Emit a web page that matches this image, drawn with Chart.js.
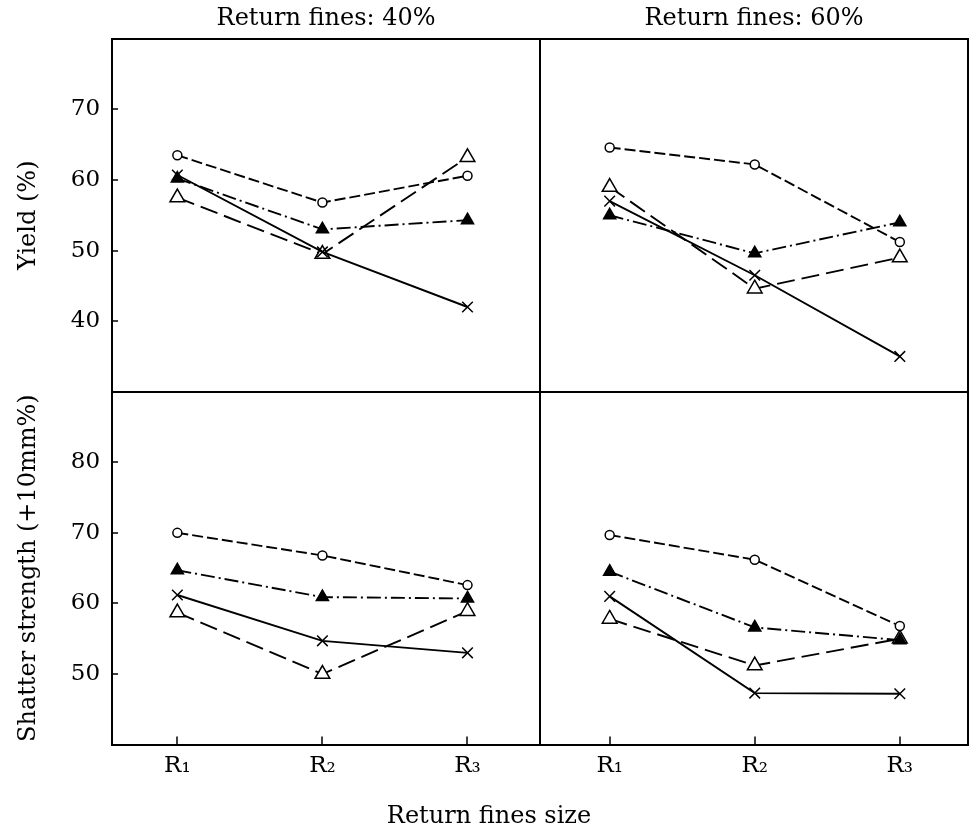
<!DOCTYPE html>
<html>
<head>
<meta charset="utf-8">
<script src="https://cdn.jsdelivr.net/npm/chart.js@4.4.0/dist/chart.umd.min.js"></script>
<style>
  body { margin: 0; background: #fff; }
  #wrap { width: 970px; height: 833px; }
</style>
</head>
<body>
<div id="wrap"><canvas id="fines-chart" width="970" height="833"></canvas></div>
<script>
// return fines size categories
const sizes = ['R\u2081', 'R\u2082', 'R\u2083'];
const sizePos = [1, 2, 3];

// Yield (%) - return fines 40%
const yield40Circle = [63.5, 56.8, 60.6];
const yield40SolidTri = [60.2, 53.0, 54.3];
const yield40Cross = [60.7, 49.8, 42.0];
const yield40OpenTri = [57.5, 49.5, 63.2];

// Yield (%) - return fines 60%
const yield60Circle = [64.6, 62.2, 51.2];
const yield60SolidTri = [55.0, 49.6, 54.0];
const yield60Cross = [57.0, 46.5, 35.0];
const yield60OpenTri = [59.0, 44.6, 49.0];

// Shatter strength (+10mm%) - return fines 40%
const shatter40Circle = [70.0, 66.8, 62.6];
const shatter40SolidTri = [64.7, 60.9, 60.7];
const shatter40Cross = [61.2, 54.7, 53.0];
const shatter40OpenTri = [58.7, 50.0, 58.9];

// Shatter strength (+10mm%) - return fines 60%
const shatter60Circle = [69.7, 66.2, 56.8];
const shatter60SolidTri = [64.5, 56.6, 54.8];
const shatter60Cross = [61.0, 47.3, 47.2];
const shatter60OpenTri = [57.8, 51.2, 55.0];

const yieldTicks = [30, 40, 50, 60, 70];
const shatterTicks = [50, 60, 70, 80];
const yieldRange = [30, 80];
const shatterRange = [40, 90];
const xRangeL = [0.55, 3.5];
const xRangeR = [0.52, 3.47];

Chart.defaults.font.family = 'DejaVu Serif';
Chart.defaults.color = '#000';

const styles = {
    circle: { borderDash: [11, 4], pointStyle: 'circle', pointRadius: 4.5, pointBackgroundColor: '#fff' },
    solidTri: { borderDash: [14, 4, 2, 4], pointStyle: 'triangle', pointRadius: 7, pointBackgroundColor: '#000' },
    cross: { borderDash: [], pointStyle: 'crossRot', pointRadius: 7.5, pointBackgroundColor: '#000' },
    openTri: { borderDash: [18, 7], pointStyle: 'triangle', pointRadius: 8.5, pointBackgroundColor: '#fff' }
};

function series(values, style, xAxis, yAxis) {
    return Object.assign({
        data: values.map((v, i) => ({ x: sizePos[i], y: v })),
        xAxisID: xAxis,
        yAxisID: yAxis,
        borderColor: '#000',
        borderWidth: 1.9,
        pointBorderColor: '#000',
        pointBorderWidth: 1.5,
        fill: false,
        tension: 0
    }, styles[style]);
}

const datasets = [
    series(yield40Circle, 'circle', 'xL', 'yT'),
    series(yield40SolidTri, 'solidTri', 'xL', 'yT'),
    series(yield40Cross, 'cross', 'xL', 'yT'),
    series(yield40OpenTri, 'openTri', 'xL', 'yT'),
    series(yield60Circle, 'circle', 'xR', 'yT'),
    series(yield60SolidTri, 'solidTri', 'xR', 'yT'),
    series(yield60Cross, 'cross', 'xR', 'yT'),
    series(yield60OpenTri, 'openTri', 'xR', 'yT'),
    series(shatter40Circle, 'circle', 'xL', 'yB'),
    series(shatter40SolidTri, 'solidTri', 'xL', 'yB'),
    series(shatter40Cross, 'cross', 'xL', 'yB'),
    series(shatter40OpenTri, 'openTri', 'xL', 'yB'),
    series(shatter60Circle, 'circle', 'xR', 'yB'),
    series(shatter60SolidTri, 'solidTri', 'xR', 'yB'),
    series(shatter60Cross, 'cross', 'xR', 'yB'),
    series(shatter60OpenTri, 'openTri', 'xR', 'yB')
];

const tickFont = { size: 23 };
const titleFont = { size: 24 };
const frame = { color: '#000', width: 2 };
const clear = 'rgba(0,0,0,0)';

function bottomAxis(range, divider) {
    return {
        type: 'linear', position: 'bottom', stack: 'bx', stackWeight: 1,
        min: range[0], max: range[1],
        afterBuildTicks: s => { s.ticks = sizePos.concat([range[1]]).map(v => ({ value: v })); },
        // no extra side padding for the edge tick
        afterFit: s => { s.paddingLeft = 0; s.paddingRight = 0; },
        ticks: {
            font: tickFont, padding: 16, maxRotation: 0, autoSkip: false,
            callback: v => sizes[sizePos.indexOf(v)] || ''
        },
        grid: {
            color: c => (divider && c.tick && c.tick.value === range[1]) ? '#000' : clear,
            lineWidth: 2, tickLength: -8, tickColor: '#000', tickWidth: 1.5
        },
        border: frame
    };
}

function topAxis(text) {
    return {
        type: 'linear', position: 'top', stack: 'tx', stackWeight: 1, min: 0, max: 1,
        ticks: { display: false },
        grid: { display: false, drawTicks: false },
        border: frame,
        title: { display: true, text: text, font: titleFont, padding: { top: 3, bottom: 6 } }
    };
}

function leftAxis(range, ticks, text, divider) {
    return {
        type: 'linear', position: 'left', stack: 'ly', stackWeight: 1,
        min: range[0], max: range[1],
        afterBuildTicks: s => { s.ticks = ticks.map(v => ({ value: v })); },
        ticks: { font: tickFont, padding: 18, callback: v => (v === divider ? '' : v) },
        grid: {
            color: c => (c.tick && c.tick.value === divider) ? '#000' : clear,
            lineWidth: 2, tickLength: -6, tickColor: '#000', tickWidth: 1.5
        },
        border: frame,
        title: { display: true, text: text, font: titleFont, padding: { top: 4, bottom: 10 } }
    };
}

const ctx = document.getElementById('fines-chart').getContext('2d');
const chart = new Chart(ctx, {
    type: 'line',
    data: { datasets: datasets },
    options: {
        responsive: false,
        animation: false,
        devicePixelRatio: 1,
        layout: { autoPadding: false, padding: { left: 10, right: 2, top: 1, bottom: 2 } },
        plugins: {
            legend: { display: false },
            tooltip: { enabled: false },
            title: {
                display: true, position: 'bottom', text: 'Return fines size',
                font: { size: 24, weight: 'normal' }, color: '#000',
                padding: { top: 6, bottom: 0 }
            }
        },
        scales: {
            xL: bottomAxis(xRangeL, true),
            xR: bottomAxis(xRangeR, false),
            // top boxes are laid out in reverse order
            xTopR: topAxis('Return fines: 60%'),
            xTopL: topAxis('Return fines: 40%'),
            yB: leftAxis(shatterRange, shatterTicks, 'Shatter strength (+10mm%)', null),
            yT: leftAxis(yieldRange, yieldTicks, 'Yield (%)', yieldRange[0]),
            yRight: {
                type: 'linear', position: 'right', min: 0, max: 1,
                afterFit: s => { s.width = 0; },
                ticks: { display: false },
                grid: { display: false, drawTicks: false },
                border: frame
            }
        }
    }
});
</script>
</body>
</html>
